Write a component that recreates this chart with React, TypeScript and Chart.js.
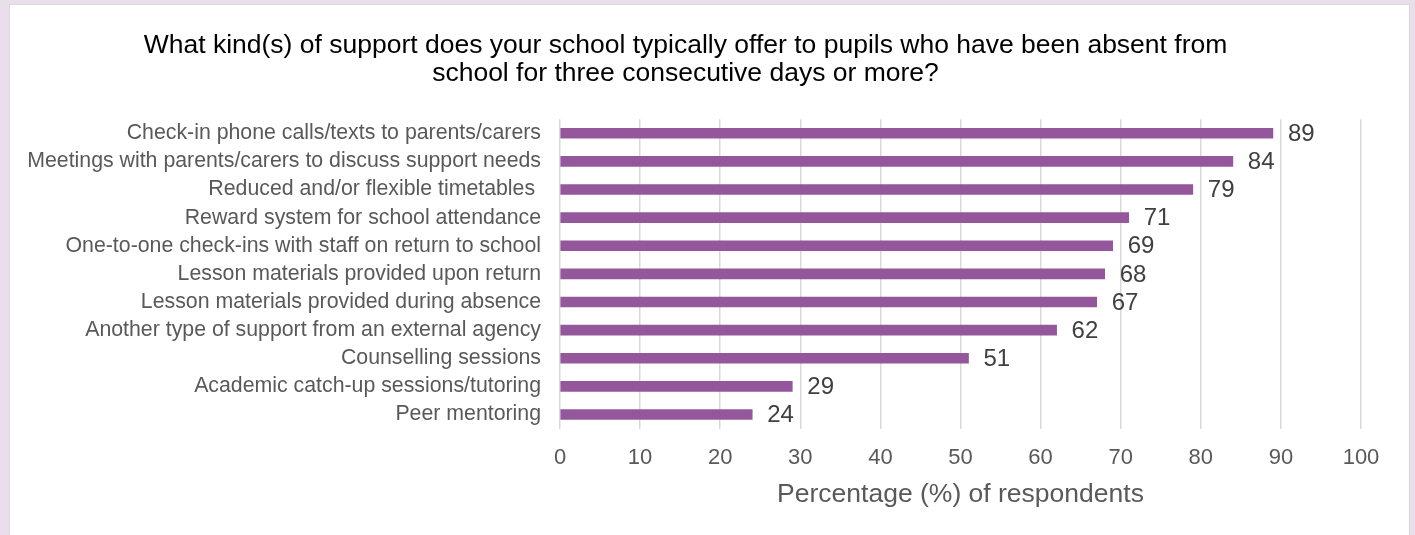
import React, { useEffect, useRef } from "react";
import { Chart, registerables } from "chart.js";

Chart.register(...registerables);

const categories = [
  "Check-in phone calls/texts to parents/carers",
  "Meetings with parents/carers to discuss support needs",
  "Reduced and/or flexible timetables ",
  "Reward system for school attendance",
  "One-to-one check-ins with staff on return to school",
  "Lesson materials provided upon return",
  "Lesson materials provided during absence",
  "Another type of support from an external agency",
  "Counselling sessions",
  "Academic catch-up sessions/tutoring",
  "Peer mentoring",
];
const values = [89, 84, 79, 71, 69, 68, 67, 62, 51, 29, 24];
const titleLines = [
  "What kind(s) of support does your school typically offer to pupils who have been absent from",
  "school for three consecutive days or more?",
];
const xAxisTitle = "Percentage (%) of respondents";

const FONT = "'Liberation Sans', Arial, sans-serif";

const valueLabels = {
  id: "valueLabels",
  afterDatasetsDraw(chart: any) {
    const ctx = chart.ctx;
    const meta = chart.getDatasetMeta(0);
    ctx.save();
    ctx.font = `24px ${FONT}`;
    ctx.fillStyle = "#404040";
    ctx.textAlign = "left";
    ctx.textBaseline = "middle";
    meta.data.forEach((bar: any, i: number) => {
      ctx.fillText(String(values[i]), bar.x + 15, bar.y + 1);
    });
    // x axis title
    const area = chart.chartArea;
    ctx.font = `26.5px ${FONT}`;
    ctx.fillStyle = "#595959";
    ctx.textAlign = "center";
    ctx.fillText(xAxisTitle, (area.left + area.right) / 2, area.bottom + 66);
    ctx.restore();
  },
};

export default function App() {
  const ref = useRef<HTMLCanvasElement>(null);
  useEffect(() => {
    if (!ref.current) return;
    const chart = new Chart(ref.current, {
      type: "bar",
      data: {
        labels: categories,
        datasets: [
          {
            data: values,
            backgroundColor: "#95579B",
            barThickness: 10,
          },
        ],
      },
      options: {
        indexAxis: "y",
        animation: false,
        responsive: false,
        maintainAspectRatio: false,
        layout: { padding: { left: 0, right: 48, top: 0, bottom: 49 } },
        plugins: {
          legend: { display: false },
          tooltip: { enabled: false },
          title: {
            display: true,
            text: titleLines,
            color: "#000000",
            font: { family: FONT, size: 26.5, weight: "normal", lineHeight: 1.06 },
            padding: { top: 27, bottom: 31 },
          },
        },
        scales: {
          x: {
            min: 0,
            max: 100,
            ticks: {
              stepSize: 10,
              color: "#595959",
              font: { family: FONT, size: 22 },
              padding: 16,
            },
            grid: { color: "#d9d9d9", lineWidth: 1.5, drawTicks: false },
            border: { display: false },
            title: { display: false },
          },
          y: {
            grid: { display: false },
            border: { display: false },
            ticks: {
              color: "#595959",
              font: { family: FONT, size: 21.3 },
              padding: 11,
              autoSkip: false,
            },
            afterFit(scale: any) {
              scale.width = 550;
            },
          },
        },
      },
      plugins: [valueLabels],
    });
    return () => chart.destroy();
  }, []);
  return (
    <div
      style={{
        position: "fixed",
        left: 0,
        top: 0,
        width: 1415,
        height: 535,
        background: "#EBDEEC",
        overflow: "hidden",
      }}
    >
      <div
        style={{
          position: "absolute",
          left: 9,
          top: 4,
          width: 1399,
          height: 540,
          background: "#ffffff",
          border: "1px solid #d9d9d9",
        }}
      >
        <canvas ref={ref} width={1399} height={531} style={{ display: "block" }} />
      </div>
    </div>
  );
}
